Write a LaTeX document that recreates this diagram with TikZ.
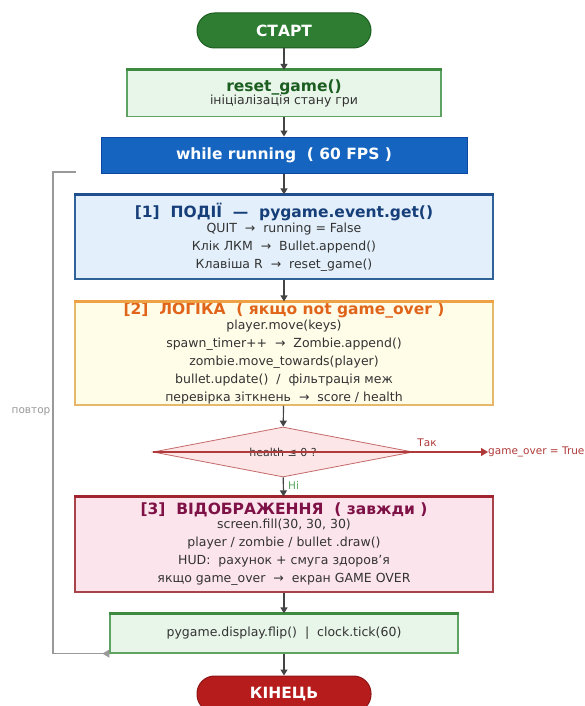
\documentclass[tikz,border=0pt]{standalone}
\usepackage{fontspec}
\setmainfont{DejaVu Sans}
\usetikzlibrary{arrows.meta,shapes.geometric}
\definecolor{txt}{HTML}{333333}
\definecolor{arrowgray}{HTML}{444444}
\definecolor{startg}{HTML}{2E7D32}
\definecolor{startb}{HTML}{1B5E20}
\definecolor{lgreen}{HTML}{E8F5E9}
\definecolor{gbord}{HTML}{5FA362}
\definecolor{gtop}{HTML}{3D8B40}
\definecolor{dkgreen}{HTML}{1B5E20}
\definecolor{whileb}{HTML}{1565C0}
\definecolor{whilebd}{HTML}{0D47A1}
\definecolor{lblue}{HTML}{E3F0FB}
\definecolor{bbord}{HTML}{2F6299}
\definecolor{btop}{HTML}{1F4F8F}
\definecolor{btitle}{HTML}{163F7A}
\definecolor{lyellow}{HTML}{FFFCE8}
\definecolor{ybord}{HTML}{E6B96A}
\definecolor{ytop}{HTML}{EFA245}
\definecolor{ytitle}{HTML}{E0651A}
\definecolor{lpink}{HTML}{FCE4EC}
\definecolor{rbord}{HTML}{A8434B}
\definecolor{rtop}{HTML}{A0252F}
\definecolor{rtitle}{HTML}{7E1146}
\definecolor{dpink}{HTML}{FDE6E8}
\definecolor{dbord}{HTML}{C46A6A}
\definecolor{redarr}{HTML}{B03A3A}
\definecolor{endred}{HTML}{B71C1C}
\definecolor{endbd}{HTML}{8E1515}
\definecolor{nigreen}{HTML}{5AA85E}
\definecolor{loopgray}{HTML}{999999}
\newcommand\topbar[2]{\draw[line width=3pt,#2] (#1.north west) -- (#1.north east);}
\begin{document}
\begin{tikzpicture}[x=1pt,y=-1pt,
  every node/.style={inner sep=0pt},
  pill/.style={rectangle, rounded corners=17.5pt, minimum width=174pt, minimum height=35pt,
    line width=1pt, text=white, font=\fontsize{15.5}{18}\selectfont\bfseries},
  box/.style={draw, line width=1.2pt, align=center, text=txt,
    font=\fontsize{12.5}{18}\selectfont},
  flow/.style={draw=arrowgray, line width=1.2pt, -{Triangle[width=7pt,length=6pt]}},
  smalltxt/.style={font=\fontsize{10.5}{12}\selectfont}
]
\useasboundingbox (0,0) rectangle (584,706);
\fill[white] (0,0) rectangle (584,706);

\node[pill, fill=startg, draw=startb] (start) at (284,30.5) {СТАРТ};

\node[box, fill=lgreen, draw=gbord, minimum width=314pt, minimum height=46pt] (reset) at (284,93.5)
  {{\fontsize{15.5}{15}\selectfont\bfseries\color{dkgreen}reset\_game()}\\[-5pt]ініціалізація стану гри};
\topbar{reset}{gtop}

\node[rectangle, fill=whileb, draw=whilebd, line width=1pt, minimum width=366pt, minimum height=36pt,
  text=white, font=\fontsize{15.5}{18}\selectfont\bfseries] (while) at (284,155) {while running~~( 60 FPS )};

\node[box, fill=lblue, draw=bbord, minimum width=418pt, minimum height=84pt] (events) at (284,237)
  {{\fontsize{15.5}{18}\selectfont\bfseries\color{btitle}[1]~~ПОДІЇ~~—~~pygame.event.get()}\\[-3pt]
   QUIT~~→~~running = False\\
   Клік ЛКМ~~→~~Bullet.append()\\
   Клавіша R~~→~~reset\_game()};
\topbar{events}{btop}

\node[box, fill=lyellow, draw=ybord, minimum width=418pt, minimum height=103pt] (logic) at (284,353.5)
  {{\fontsize{15.5}{18}\selectfont\bfseries\color{ytitle}[2]~~ЛОГІКА~~( якщо not game\_over )}\\[-3pt]
   player.move(keys)\\
   spawn\_timer++~~→~~Zombie.append()\\
   zombie.move\_towards(player)\\
   bullet.update()~~/~~фільтрація меж\\
   перевірка зіткнень~~→~~score / health};
\topbar{logic}{ytop}

\node[diamond, fill=dpink, draw=dbord, line width=0.8pt, minimum width=260pt, minimum height=50pt,
  aspect=5.2, text=txt, font=\fontsize{11}{13}\selectfont] (dia) at (283,452) {health ≤ 0 ?};

\node[anchor=west, text=redarr, smalltxt] (go) at (488,452) {game\_over = True};
\draw[draw=redarr, line width=1.1pt, -{Triangle[width=8pt,length=7pt]}] (dia.west) -- (go.west);
\node[text=redarr, smalltxt] (tak) at (427,443) {Так};

\node[box, fill=lpink, draw=rbord, minimum width=418pt, minimum height=95pt] (render) at (284,544.5)
  {{\fontsize{15.5}{18}\selectfont\bfseries\color{rtitle}[3]~~ВІДОБРАЖЕННЯ~~( завжди )}\\[-4pt]
   screen.fill(30, 30, 30)\\
   player / zombie / bullet .draw()\\
   HUD:~~рахунок + смуга здоров'я\\
   якщо game\_over~~→~~екран GAME OVER};
\topbar{render}{rtop}

\node[box, fill=lgreen, draw=gbord, minimum width=348pt, minimum height=39pt] (flip) at (284,633.5)
  {pygame.display.flip()~~|~~clock.tick(60)};
\topbar{flip}{gtop}

\node[pill, fill=endred, draw=endbd, minimum height=36pt] (end) at (284,694) {КІНЕЦЬ};

\draw[flow] (start) -- (reset);
\draw[flow] (reset) -- (while);
\draw[flow] (while) -- (events);
\draw[flow] (events) -- (logic);
\draw[flow] (logic) -- (dia);
\draw[flow] (dia) -- (render);
\node[text=nigreen, smalltxt, anchor=west] (ni) at (288,486) {Ні};
\draw[flow] (render) -- (flip);
\draw[flow] (flip) -- (end);

\coordinate (looptop) at (76,172);
\draw[draw=loopgray, line width=1.2pt, -{Triangle[reversed,width=8pt,length=7pt]}]
  (looptop) -- (53,172) |- (flip.south west);
\node[text=loopgray, smalltxt] (rep) at (31,412) {повтор};
\end{tikzpicture}
\end{document}
